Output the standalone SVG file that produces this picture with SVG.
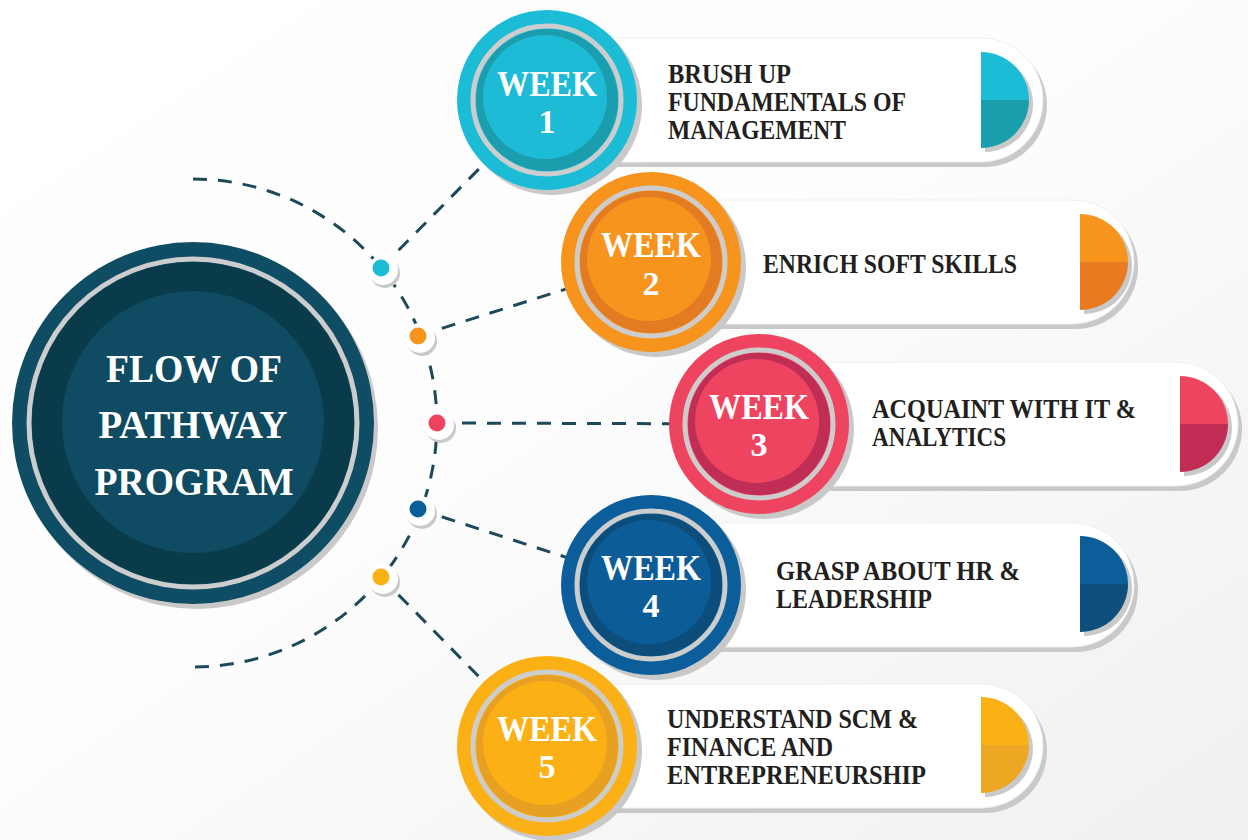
<svg xmlns="http://www.w3.org/2000/svg" width="1248" height="840" viewBox="0 0 1248 840">
<defs>
<linearGradient id="bg" x1="0" y1="0" x2="1" y2="1">
<stop offset="0" stop-color="#ffffff"/>
<stop offset="0.45" stop-color="#fdfdfd"/>
<stop offset="1" stop-color="#eff0f2"/>
</linearGradient>
<style>
.sh{fill:#c9c9c9}
.pill{fill:#ffffff;stroke:#f0f0f0;stroke-width:1}
.ring{fill:none;stroke:#cdcdcd;stroke-width:5}
.wk{font-family:"Liberation Serif",serif;font-weight:bold;font-size:35px;fill:#ffffff;text-anchor:middle}
.num{font-family:"Liberation Serif",serif;font-weight:bold;font-size:34px;fill:#ffffff;text-anchor:middle}
.lbl{font-family:"Liberation Serif",serif;font-weight:bold;font-size:27px;fill:#231f20}
.ttl{font-family:"Liberation Serif",serif;font-weight:bold;font-size:39px;fill:#ffffff;text-anchor:middle}
.dash{fill:none;stroke:#1d4a5a;stroke-width:3;stroke-dasharray:14 11}
.dw{fill:#ffffff}
</style>
</defs>
<rect width="1248" height="840" fill="url(#bg)"/>

<g id="connectors">
<path class="dash" d="M193,179 A244,244 0 0 1 193,667"/>
<line class="dash" x1="381" y1="268" x2="547" y2="100"/>
<line class="dash" x1="418" y1="336" x2="651" y2="262"/>
<line class="dash" x1="437" y1="423" x2="759" y2="424"/>
<line class="dash" x1="418" y1="509" x2="651" y2="585"/>
<line class="dash" x1="381" y1="577" x2="547" y2="746"/>
</g>

<g id="center">
<circle cx="197" cy="428" r="181" class="sh"/>
<circle cx="193" cy="423" r="181" fill="#0e4d63"/>
<circle cx="193" cy="423" r="164" class="ring"/>
<circle cx="193" cy="423" r="161" fill="#0a3b4a"/>
<circle cx="193" cy="422" r="131" fill="#0f4b62"/>
<text class="ttl" x="194" y="382" textLength="176" lengthAdjust="spacingAndGlyphs">FLOW OF</text>
<text class="ttl" x="193" y="438" textLength="189" lengthAdjust="spacingAndGlyphs">PATHWAY</text>
<text class="ttl" x="194" y="495" textLength="199" lengthAdjust="spacingAndGlyphs">PROGRAM</text>
</g>

<g id="dot1">
<circle cx="385" cy="273" r="15" class="sh"/><circle cx="383" cy="270" r="15" class="dw"/><circle cx="381" cy="268" r="8.5" fill="#1cbcd7"/>
</g>
<g id="dot2">
<circle cx="422" cy="341" r="15" class="sh"/><circle cx="420" cy="338" r="15" class="dw"/><circle cx="418" cy="336" r="8.5" fill="#f7941e"/>
</g>
<g id="dot3">
<circle cx="441" cy="428" r="15" class="sh"/><circle cx="439" cy="425" r="15" class="dw"/><circle cx="437" cy="423" r="8.5" fill="#ee4460"/>
</g>
<g id="dot4">
<circle cx="422" cy="514" r="15" class="sh"/><circle cx="420" cy="511" r="15" class="dw"/><circle cx="418" cy="509" r="8.5" fill="#0c5e9a"/>
</g>
<g id="dot5">
<circle cx="385" cy="582" r="15" class="sh"/><circle cx="383" cy="579" r="15" class="dw"/><circle cx="381" cy="577" r="8.5" fill="#fbb116"/>
</g>

<g id="week1">
<rect x="551" y="43" width="496" height="124" rx="62" class="sh"/>
<rect x="547" y="38" width="496" height="124" rx="62" class="pill"/>
<path d="M985,56 A48,48 0 0 1 985,152 Z" class="sh"/>
<path d="M981,52 A48,48 0 0 1 1029,100 L981,100 Z" fill="#1cbcd7"/>
<path d="M981,100 L1029,100 A48,48 0 0 1 981,148 Z" fill="#1a9eab"/>
<circle cx="552" cy="105" r="90" class="sh"/>
<circle cx="547" cy="100" r="90" fill="#1cbcd7"/>
<circle cx="547" cy="100" r="74" class="ring"/>
<circle cx="547" cy="100" r="71" fill="#1a9dac"/>
<circle cx="545" cy="97" r="62" fill="#1dbbd6"/>
<text class="wk" x="547" y="96" textLength="100" lengthAdjust="spacingAndGlyphs">WEEK</text>
<text class="num" x="547" y="133">1</text>
<text class="lbl" x="668" y="83" textLength="123" lengthAdjust="spacingAndGlyphs">BRUSH UP</text>
<text class="lbl" x="668" y="111" textLength="238" lengthAdjust="spacingAndGlyphs">FUNDAMENTALS OF</text>
<text class="lbl" x="668" y="139" textLength="178" lengthAdjust="spacingAndGlyphs">MANAGEMENT</text>
</g>

<g id="week2">
<rect x="655" y="205" width="483" height="124" rx="62" class="sh"/>
<rect x="651" y="200" width="483" height="124" rx="62" class="pill"/>
<path d="M1084,218 A48,48 0 0 1 1084,314 Z" class="sh"/>
<path d="M1080,214 A48,48 0 0 1 1128,262 L1080,262 Z" fill="#f7941e"/>
<path d="M1080,262 L1128,262 A48,48 0 0 1 1080,310 Z" fill="#e87b20"/>
<circle cx="656" cy="267" r="90" class="sh"/>
<circle cx="651" cy="262" r="90" fill="#f7941e"/>
<circle cx="651" cy="262" r="74" class="ring"/>
<circle cx="651" cy="262" r="71" fill="#e27b22"/>
<circle cx="649" cy="259" r="62" fill="#f7941e"/>
<text class="wk" x="651" y="257" textLength="100" lengthAdjust="spacingAndGlyphs">WEEK</text>
<text class="num" x="651" y="295">2</text>
<text class="lbl" x="763" y="273" textLength="254" lengthAdjust="spacingAndGlyphs">ENRICH SOFT SKILLS</text>
</g>

<g id="week3">
<rect x="763" y="367" width="479" height="124" rx="62" class="sh"/>
<rect x="759" y="362" width="479" height="124" rx="62" class="pill"/>
<path d="M1184,380 A48,48 0 0 1 1184,476 Z" class="sh"/>
<path d="M1180,376 A48,48 0 0 1 1228,424 L1180,424 Z" fill="#ef4460"/>
<path d="M1180,424 L1228,424 A48,48 0 0 1 1180,472 Z" fill="#c02c54"/>
<circle cx="764" cy="429" r="90" class="sh"/>
<circle cx="759" cy="424" r="90" fill="#ee4460"/>
<circle cx="759" cy="424" r="74" class="ring"/>
<circle cx="759" cy="424" r="71" fill="#c12e55"/>
<circle cx="757" cy="421" r="62" fill="#ee4460"/>
<text class="wk" x="759" y="419" textLength="100" lengthAdjust="spacingAndGlyphs">WEEK</text>
<text class="num" x="759" y="456">3</text>
<text class="lbl" x="872" y="418" textLength="264" lengthAdjust="spacingAndGlyphs">ACQUAINT WITH IT &amp;</text>
<text class="lbl" x="872" y="446" textLength="134" lengthAdjust="spacingAndGlyphs">ANALYTICS</text>
</g>

<g id="week4">
<rect x="655" y="528" width="483" height="124" rx="62" class="sh"/>
<rect x="651" y="523" width="483" height="124" rx="62" class="pill"/>
<path d="M1084,540 A48,48 0 0 1 1084,636 Z" class="sh"/>
<path d="M1080,536 A48,48 0 0 1 1128,584 L1080,584 Z" fill="#0c5e9a"/>
<path d="M1080,584 L1128,584 A48,48 0 0 1 1080,632 Z" fill="#0f4f7e"/>
<circle cx="656" cy="590" r="90" class="sh"/>
<circle cx="651" cy="585" r="90" fill="#0c5e9a"/>
<circle cx="651" cy="585" r="74" class="ring"/>
<circle cx="651" cy="585" r="71" fill="#0d4d7c"/>
<circle cx="649" cy="582" r="62" fill="#0c5c97"/>
<text class="wk" x="651" y="580" textLength="100" lengthAdjust="spacingAndGlyphs">WEEK</text>
<text class="num" x="651" y="617">4</text>
<text class="lbl" x="776" y="580" textLength="244" lengthAdjust="spacingAndGlyphs">GRASP ABOUT HR &amp;</text>
<text class="lbl" x="776" y="608" textLength="156" lengthAdjust="spacingAndGlyphs">LEADERSHIP</text>
</g>

<g id="week5">
<rect x="551" y="689" width="496" height="124" rx="62" class="sh"/>
<rect x="547" y="684" width="496" height="124" rx="62" class="pill"/>
<path d="M985,701 A48,48 0 0 1 985,797 Z" class="sh"/>
<path d="M981,697 A48,48 0 0 1 1029,745 L981,745 Z" fill="#fbb116"/>
<path d="M981,745 L1029,745 A48,48 0 0 1 981,793 Z" fill="#eda723"/>
<circle cx="552" cy="751" r="90" class="sh"/>
<circle cx="547" cy="746" r="90" fill="#fbb116"/>
<circle cx="547" cy="746" r="74" class="ring"/>
<circle cx="547" cy="746" r="71" fill="#e8a022"/>
<circle cx="545" cy="743" r="62" fill="#fbb116"/>
<text class="wk" x="547" y="741" textLength="100" lengthAdjust="spacingAndGlyphs">WEEK</text>
<text class="num" x="547" y="778">5</text>
<text class="lbl" x="667" y="728" textLength="251" lengthAdjust="spacingAndGlyphs">UNDERSTAND SCM &amp;</text>
<text class="lbl" x="667" y="756" textLength="166" lengthAdjust="spacingAndGlyphs">FINANCE AND</text>
<text class="lbl" x="667" y="784" textLength="259" lengthAdjust="spacingAndGlyphs">ENTREPRENEURSHIP</text>
</g>
</svg>
